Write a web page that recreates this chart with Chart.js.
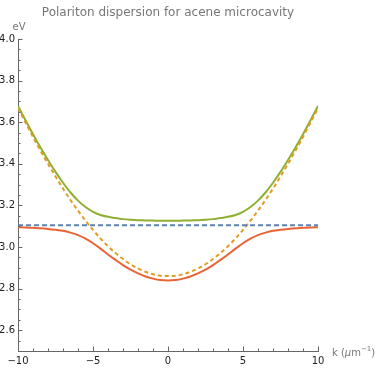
<!DOCTYPE html>
<html>
<head>
<meta charset="utf-8">
<script src="https://cdn.jsdelivr.net/npm/chart.js@4"></script>
<style>html,body{margin:0;padding:0;background:#fff}</style>
</head>
<body>
<canvas id="chart" width="375" height="375"></canvas>
<script>
// k in um^-1, energies in eV
const kValues = [-10, -9.5, -9, -8.5, -8, -7.5, -7, -6.5, -6, -5.5, -5, -4.5, -4, -3.5, -3, -2.5, -2, -1.5, -1, -0.5,
                 0, 0.5, 1, 1.5, 2, 2.5, 3, 3.5, 4, 4.5, 5, 5.5, 6, 6.5, 7, 7.5, 8, 8.5, 9, 9.5, 10];
const upperPolariton = [3.678, 3.609, 3.542, 3.478, 3.418, 3.361, 3.309, 3.262, 3.223, 3.192, 3.169, 3.154, 3.145, 3.139, 3.134, 3.131, 3.129, 3.128, 3.127, 3.126,
                        3.126, 3.126, 3.127, 3.128, 3.129, 3.131, 3.134, 3.139, 3.145, 3.154, 3.169, 3.192, 3.223, 3.262, 3.309, 3.361, 3.418, 3.478, 3.542, 3.609, 3.678];
const lowerPolariton = [3.095, 3.094, 3.092, 3.090, 3.087, 3.083, 3.078, 3.069, 3.057, 3.040, 3.018, 2.992, 2.964, 2.938, 2.913, 2.891, 2.873, 2.858, 2.848, 2.841,
                        2.839, 2.841, 2.848, 2.858, 2.873, 2.891, 2.913, 2.938, 2.964, 2.992, 3.018, 3.040, 3.057, 3.069, 3.078, 3.083, 3.087, 3.090, 3.092, 3.094, 3.095];
const cavityPhoton = [3.668, 3.598, 3.529, 3.463, 3.400, 3.339, 3.281, 3.226, 3.175, 3.127, 3.082, 3.041, 3.004, 2.971, 2.942, 2.917, 2.897, 2.881, 2.869, 2.862,
                      2.860, 2.862, 2.869, 2.881, 2.897, 2.917, 2.942, 2.971, 3.004, 3.041, 3.082, 3.127, 3.175, 3.226, 3.281, 3.339, 3.400, 3.463, 3.529, 3.598, 3.668];
const excitonK = [-10, 10];
const excitonE = [3.105, 3.105];

const xMajorTicks = [-10, -5, 0, 5, 10];
const yMajorTicks = [2.6, 2.8, 3.0, 3.2, 3.4, 3.6, 3.8, 4.0];

const FONT = '"DejaVu Sans", sans-serif';
const AXIS = '#666';
const GREY_TEXT = '#777';

const pts = (xs, ys) => xs.map((x, i) => ({ x, y: ys[i] }));
const isMajor = (list, v) => list.some(m => Math.abs(m - v) < 1e-6);
const fmtX = v => (v < 0 ? '\u2212' + Math.abs(v) : String(v));

// inward tick marks, title and axis labels (Mathematica style)
const decorations = {
    id: 'decorations',
    afterDraw(chart) {
        const { ctx, chartArea: a, scales: { x, y } } = chart;
        ctx.save();
        ctx.strokeStyle = AXIS;
        ctx.lineWidth = 1;
        ctx.beginPath();
        x.ticks.forEach(t => {
            const px = Math.round(x.getPixelForValue(t.value)) + 0.5;
            const len = isMajor(xMajorTicks, t.value) ? 4.5 : 2.5;
            ctx.moveTo(px, a.bottom); ctx.lineTo(px, a.bottom - len);
        });
        y.ticks.forEach(t => {
            const py = Math.round(y.getPixelForValue(t.value)) + 0.5;
            const len = isMajor(yMajorTicks, t.value) ? 4.5 : 2.5;
            ctx.moveTo(a.left, py); ctx.lineTo(a.left + len, py);
        });
        ctx.stroke();

        ctx.fillStyle = GREY_TEXT;
        ctx.textBaseline = 'middle';
        ctx.textAlign = 'center';
        ctx.font = '12px ' + FONT;
        ctx.fillText('Polariton dispersion for acene microcavity', (a.left + a.right) / 2, 13);

        ctx.font = '10px ' + FONT;
        ctx.fillText('eV', a.left + 1, 27);

        // k (μm^-1)
        ctx.textAlign = 'left';
        let cx = a.right + 14;
        const cy = a.bottom + 2;
        const part = (txt, font, dy) => {
            ctx.font = font;
            ctx.fillText(txt, cx, cy + dy);
            cx += ctx.measureText(txt).width;
        };
        part('k (', '10px ' + FONT, 0);
        part('\u03bc', 'italic 10px ' + FONT, 0);
        part('m', '10px ' + FONT, 0);
        part('\u22121', '7px ' + FONT, -4);
        part(')', '10px ' + FONT, 0);
        ctx.restore();
    }
};

new Chart(document.getElementById('chart'), {
    type: 'line',
    data: {
        datasets: [
            { label: 'exciton', data: pts(excitonK, excitonE), borderColor: '#5e81b5',
              borderDash: [5, 3], order: 1 },
            { label: 'photon', data: pts(kValues, cavityPhoton), borderColor: '#e19c24',
              borderDash: [4, 3], order: 2 },
            { label: 'upper polariton', data: pts(kValues, upperPolariton), borderColor: '#8fb032', order: 3 },
            { label: 'lower polariton', data: pts(kValues, lowerPolariton), borderColor: '#eb6235', order: 4 },
        ]
    },
    options: {
        responsive: false,
        animation: false,
        devicePixelRatio: 1,
        layout: { padding: { top: 39, right: 57, bottom: 0, left: 0 } },
        elements: {
            point: { radius: 0 },
            line: { borderWidth: 2, cubicInterpolationMode: 'monotone', fill: false }
        },
        plugins: { legend: { display: false }, tooltip: { enabled: false }, title: { display: false } },
        scales: {
            x: {
                type: 'linear', min: -10, max: 10,
                afterBuildTicks: s => {
                    const t = [];
                    for (let v = -10; v <= 10; v++) t.push({ value: v });
                    s.ticks = t;
                },
                afterFit: s => { s.height = 24; },
                grid: { display: false, drawTicks: false },
                border: { display: true, color: AXIS, width: 1 },
                ticks: {
                    autoSkip: false, maxRotation: 0, padding: 4, color: '#222',
                    font: { family: FONT, size: 10 },
                    callback: v => (isMajor(xMajorTicks, v) ? fmtX(v) : '')
                }
            },
            y: {
                type: 'linear', min: 2.5, max: 4.0,
                afterBuildTicks: s => {
                    const t = [];
                    for (let i = 51; i <= 80; i++) t.push({ value: i * 0.05 });
                    s.ticks = t;
                },
                afterFit: s => { s.width = 18; },
                grid: { display: false, drawTicks: false },
                border: { display: true, color: AXIS, width: 1 },
                ticks: {
                    autoSkip: false, padding: 3, color: '#222',
                    font: { family: FONT, size: 10 },
                    callback: v => (isMajor(yMajorTicks, v) ? v.toFixed(1) : '')
                }
            }
        }
    },
    plugins: [decorations]
});
</script>
</body>
</html>
